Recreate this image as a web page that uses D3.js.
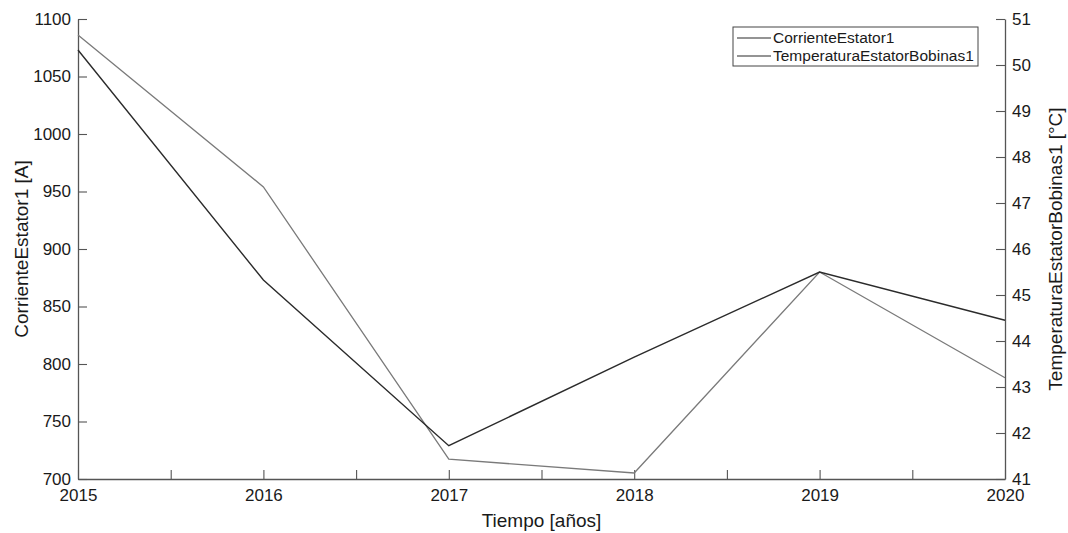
<!DOCTYPE html>
<html>
<head>
<meta charset="utf-8">
<script src="https://cdn.jsdelivr.net/npm/d3@7"></script>
<style>
  html, body { margin: 0; padding: 0; background: #fff; }
  svg text { font-family: "Liberation Sans", Arial, sans-serif; fill: #1a1a1a; }
</style>
</head>
<body>
<svg id="chart" width="1068" height="533"></svg>
<script>
// Yearly values for the stator current and winding temperature
const years = [2015, 2016, 2017, 2018, 2019, 2020];
const corriente = [1073, 873, 729, 806, 880, 838];          // A
const temperatura = [50.65, 47.35, 41.43, 41.13, 45.5, 43.2]; // °C
const leftTicks = [700, 750, 800, 850, 900, 950, 1000, 1050, 1100];
const rightTicks = [41, 42, 43, 44, 45, 46, 47, 48, 49, 50, 51];
const xTicks = [2015, 2015.5, 2016, 2016.5, 2017, 2017.5, 2018, 2018.5, 2019, 2019.5, 2020];
const seriesNames = ["CorrienteEstator1", "TemperaturaEstatorBobinas1"];

const svg = d3.select("#chart");
const m = { left: 78, right: 1005, top: 19, bottom: 479 };
const axisColor = "#555";
const lineDark = "#2b2b2b";
const lineGray = "#7a7a7a";
const tickFont = 17;

const x = d3.scaleLinear().domain([2015, 2020]).range([m.left, m.right]);
const yL = d3.scaleLinear().domain([700, 1100]).range([m.bottom, m.top]);
const yR = d3.scaleLinear().domain([41, 51]).range([m.bottom, m.top]);

// Bottom axis: ticks pointing inward, labels only on whole years
const gx = svg.append("g").attr("transform", `translate(0,${m.bottom})`)
  .call(d3.axisBottom(x).tickValues(xTicks).tickSizeInner(-9).tickSizeOuter(0)
    .tickFormat(d => Number.isInteger(d) ? String(d) : ""));
gx.select(".domain").attr("stroke", axisColor).attr("stroke-width", 1.3);
gx.selectAll(".tick line").attr("stroke", axisColor).attr("stroke-width", 1.1);
gx.selectAll(".tick text").attr("y", 10).attr("font-size", tickFont).attr("dy", "0.71em");

// Left axis
const gl = svg.append("g").attr("transform", `translate(${m.left},0)`)
  .call(d3.axisLeft(yL).tickValues(leftTicks).tickSizeInner(-9).tickSizeOuter(0)
    .tickFormat(d3.format("d")));
gl.select(".domain").attr("stroke", axisColor).attr("stroke-width", 1.3);
gl.selectAll(".tick line").attr("stroke", axisColor).attr("stroke-width", 1.1);
gl.selectAll(".tick text").attr("x", -7).attr("font-size", tickFont);

// Right axis
const gr = svg.append("g").attr("transform", `translate(${m.right},0)`)
  .call(d3.axisRight(yR).tickValues(rightTicks).tickSizeInner(-9).tickSizeOuter(0)
    .tickFormat(d3.format("d")));
gr.select(".domain").attr("stroke", axisColor).attr("stroke-width", 1.3);
gr.selectAll(".tick line").attr("stroke", axisColor).attr("stroke-width", 1.1);
gr.selectAll(".tick text").attr("x", 7).attr("font-size", tickFont);

// Axis titles
svg.append("text").attr("x", (m.left + m.right) / 2).attr("y", 527)
  .attr("text-anchor", "middle").attr("font-size", 19).text("Tiempo [años]");
svg.append("text").attr("transform", `translate(28,${(m.top + m.bottom) / 2}) rotate(-90)`)
  .attr("text-anchor", "middle").attr("font-size", 19).text("CorrienteEstator1 [A]");
svg.append("text").attr("transform", `translate(1062,${(m.top + m.bottom) / 2}) rotate(-90)`)
  .attr("text-anchor", "middle").attr("font-size", 19).text("TemperaturaEstatorBobinas1 [°C]");

// Series lines
const lineL = d3.line().x((d, i) => x(years[i])).y(d => yL(d));
const lineR = d3.line().x((d, i) => x(years[i])).y(d => yR(d));
svg.append("path").datum(temperatura).attr("d", lineR)
  .attr("fill", "none").attr("stroke", lineGray).attr("stroke-width", 1.3);
svg.append("path").datum(corriente).attr("d", lineL)
  .attr("fill", "none").attr("stroke", lineDark).attr("stroke-width", 1.4);

// Legend
const lg = svg.append("g").attr("transform", "translate(733,27)");
lg.append("rect").attr("width", 245).attr("height", 39)
  .attr("fill", "#fff").attr("stroke", "#444").attr("stroke-width", 1);
const lgColors = [lineDark, lineDark];
seriesNames.forEach((name, i) => {
  const yy = 11 + i * 18;
  lg.append("line").attr("x1", 4).attr("x2", 38).attr("y1", yy).attr("y2", yy)
    .attr("stroke", lgColors[i]).attr("stroke-width", 1.1);
  lg.append("text").attr("x", 40).attr("y", yy).attr("dy", "0.35em")
    .attr("font-size", 15.5).text(name);
});
</script>
</body>
</html>
